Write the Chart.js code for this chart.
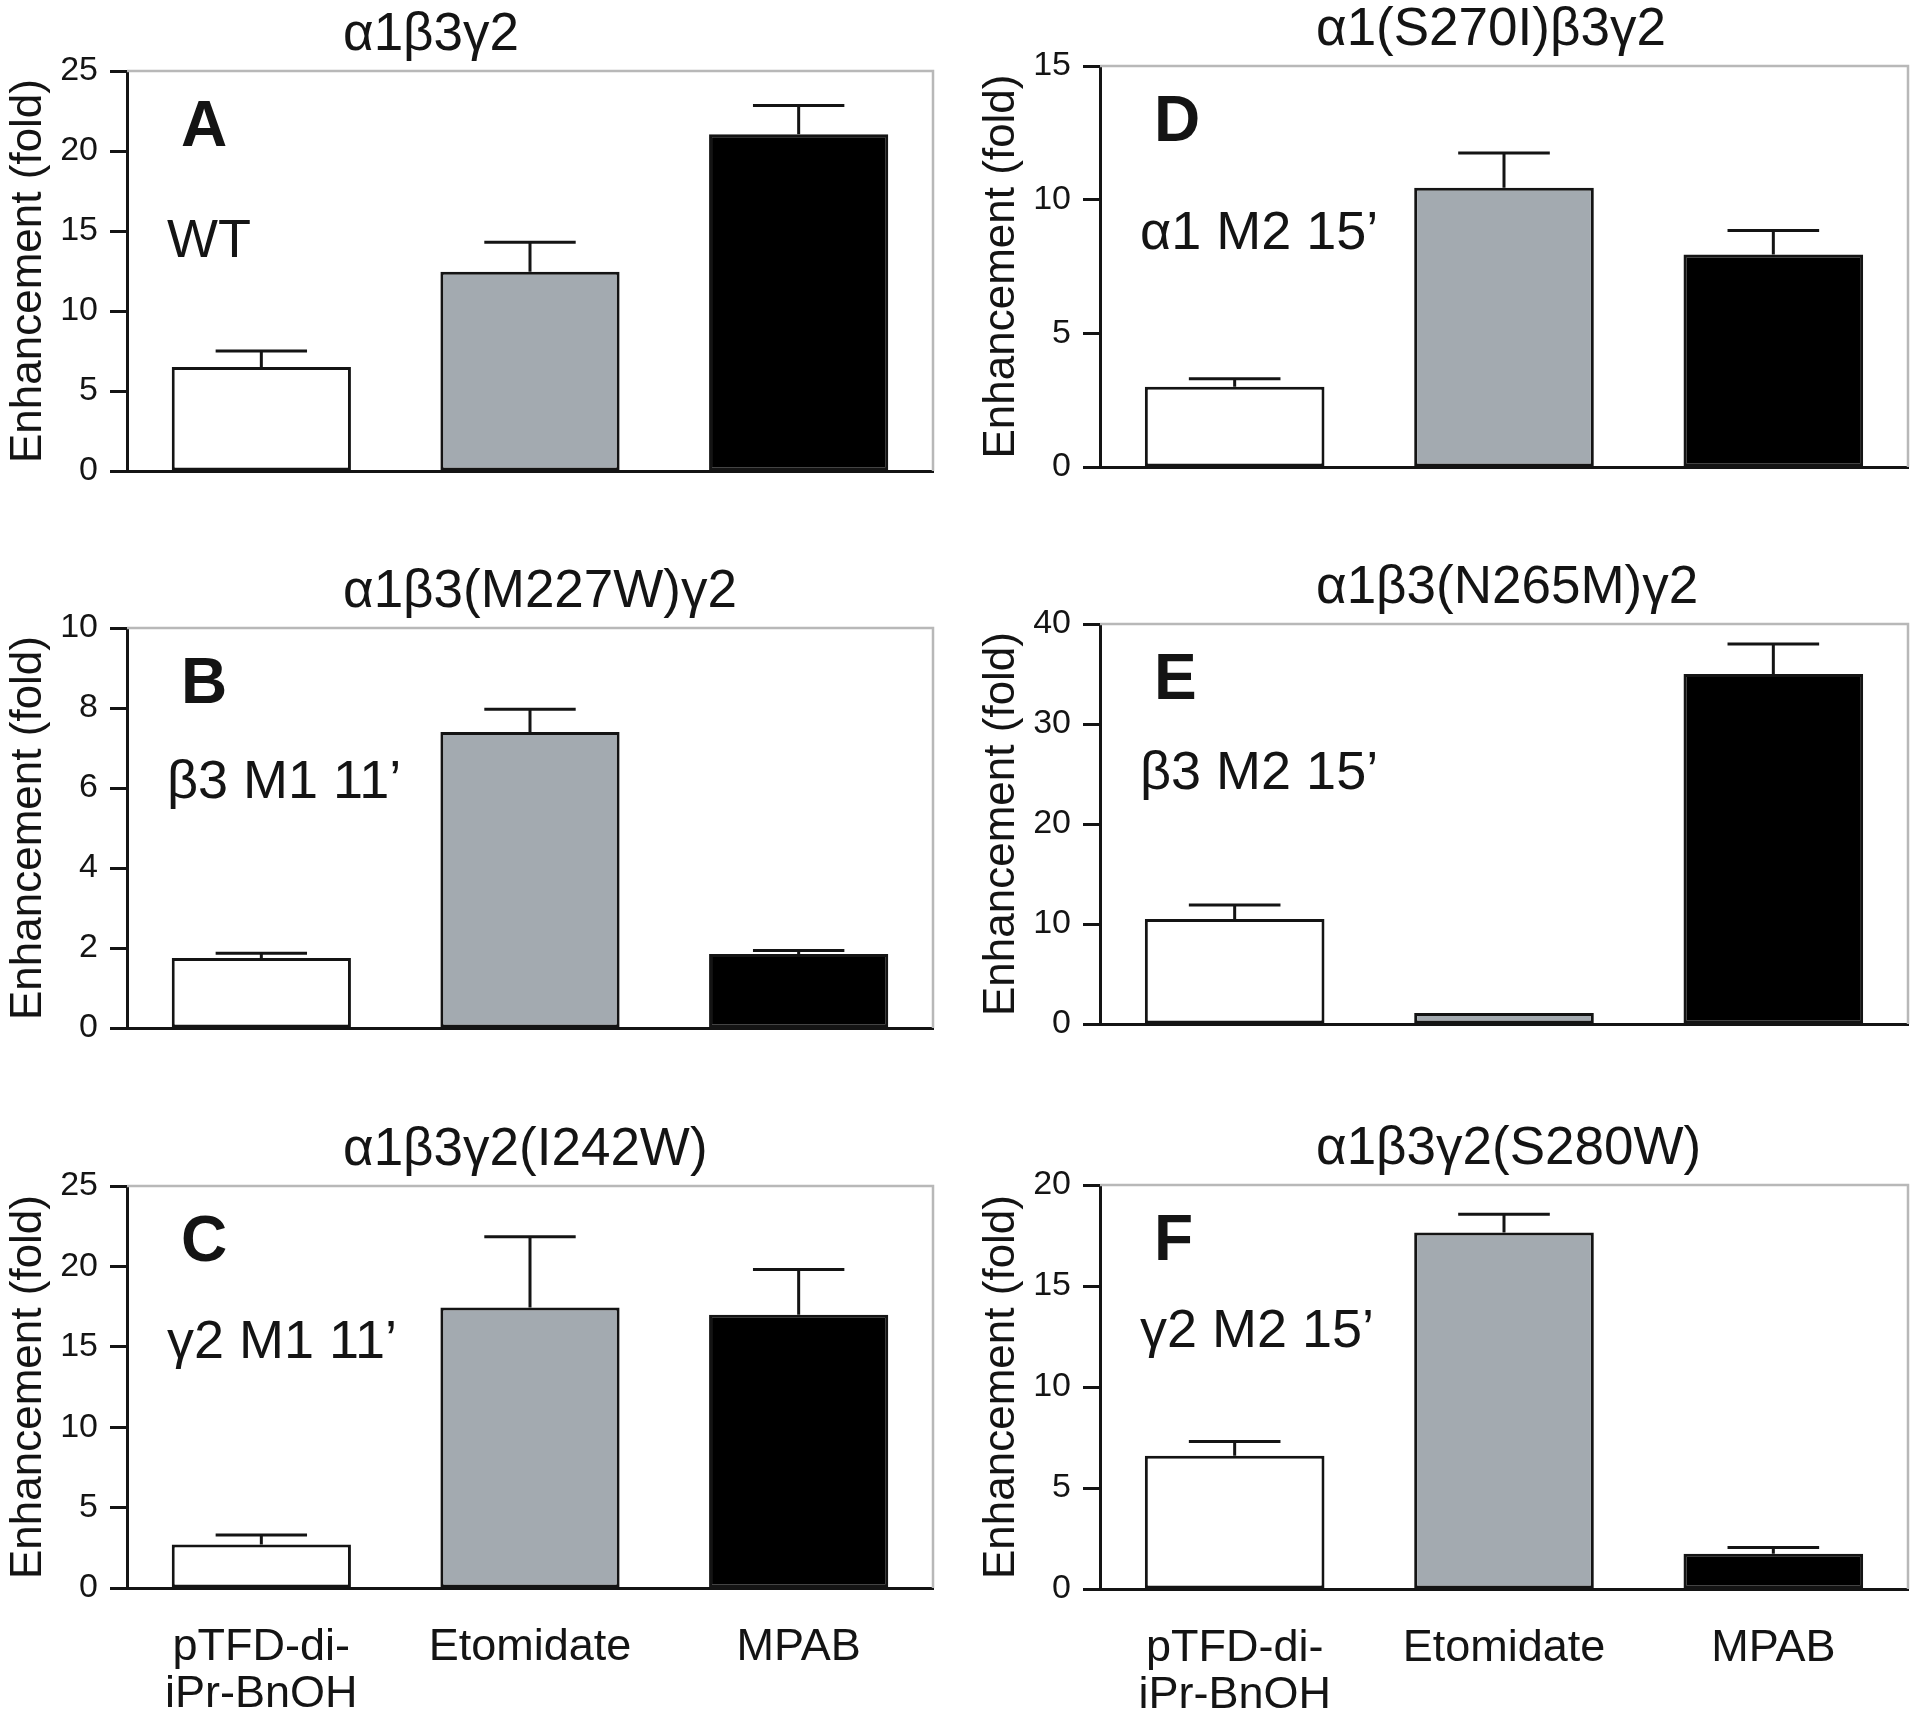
<!DOCTYPE html>
<html><head><meta charset="utf-8">
<script src="https://cdn.jsdelivr.net/npm/chart.js@4.4.1/dist/chart.umd.min.js"></script>
<style>
html,body{margin:0;padding:0;background:#fff;}
body{width:1920px;height:1715px;position:relative;overflow:hidden;}
canvas{position:absolute;}
</style></head><body>
<script>
// ---- data ----
const categories = [['pTFD-di-', 'iPr-BnOH'], 'Etomidate', 'MPAB'];
const panelTitles = ['α1β3γ2', 'α1β3(M227W)γ2', 'α1β3γ2(I242W)', 'α1(S270I)β3γ2', 'α1β3(N265M)γ2', 'α1β3γ2(S280W)'];
const panelLetters = ['A', 'B', 'C', 'D', 'E', 'F'];
const panelNotes = ['WT', 'β3 M1 11’', 'γ2 M1 11’', 'α1 M2 15’', 'β3 M2 15’', 'γ2 M2 15’'];
const yAxisTitle = 'Enhancement (fold)';

const meansA = [6.5, 12.45, 21.05];
const semA   = [1.0, 1.85, 1.8];
const meansB = [1.75, 7.4, 1.85];
const semB   = [0.12, 0.57, 0.09];
const meansC = [2.7, 17.45, 17.0];
const semC   = [0.6, 4.4, 2.8];
const meansD = [3.0, 10.45, 7.95];
const semD   = [0.3, 1.3, 0.9];
const meansE = [10.5, 1.1, 35.0];
const semE   = [1.4, 0.0, 3.0];
const meansF = [6.6, 17.65, 1.75];
const semF   = [0.7, 0.9, 0.3];

const yMax  = [25, 10, 25, 15, 40, 20];
const yStep = [5, 2, 5, 5, 10, 5];

const allMeans = [meansA, meansB, meansC, meansD, meansE, meansF];
const allSem   = [semA, semB, semC, semD, semE, semF];

// ---- layout (pixels) ----
const barColors = ['#ffffff', '#a3aab0', '#000000'];
const ink = '#141414';
const FONT = '"Liberation Sans", Arial, Helvetica, sans-serif';
// canvas boxes: [left, top, width, height, padLeft, padRight, plotTop(abs), plotBottom(abs), showX, noteBaseline]
const boxes = [
  [0,   0,    960, 550, 0,  27, 71,   471,  false, 186],
  [0,   550,  960, 560, 0,  27, 628,  1028, false, 170],
  [0,   1110, 960, 605, 0,  27, 1186, 1588, true,  172],
  [960, 0,    960, 550, 13, 12, 66,   467,  false, 183],
  [960, 550,  960, 560, 13, 12, 624,  1024, false, 165],
  [960, 1110, 960, 605, 13, 12, 1185, 1589, true,  162],
];

const framePlugin = {
  id: 'frame',
  beforeDatasetsDraw(chart) {
    const {ctx, chartArea: a} = chart;
    ctx.save();
    ctx.strokeStyle = '#b8b8b8';
    ctx.lineWidth = 2.5;
    ctx.beginPath();
    ctx.moveTo(a.left, a.top);
    ctx.lineTo(a.right, a.top);
    ctx.lineTo(a.right, a.bottom);
    ctx.stroke();
    ctx.restore();
  }
};

const errorBarPlugin = {
  id: 'errbars',
  afterDatasetsDraw(chart, args, opts) {
    const {ctx} = chart;
    const y = chart.scales.y;
    const meta = chart.getDatasetMeta(0);
    const vals = chart.data.datasets[0].data;
    ctx.save();
    ctx.strokeStyle = ink;
    ctx.lineWidth = 3;
    meta.data.forEach((el, i) => {
      const e = opts.sem[i];
      if (!e) return;
      const yTop = y.getPixelForValue(vals[i] + e);
      const half = el.width * 0.255;
      ctx.beginPath();
      ctx.moveTo(el.x, el.y);
      ctx.lineTo(el.x, yTop);
      ctx.moveTo(el.x - half, yTop);
      ctx.lineTo(el.x + half, yTop);
      ctx.stroke();
    });
    ctx.restore();
  }
};

const textPlugin = {
  id: 'panelText',
  afterDraw(chart, args, o) {
    const {ctx, chartArea: a} = chart;
    ctx.save();
    ctx.fillStyle = ink;
    ctx.textAlign = 'left';
    ctx.textBaseline = 'alphabetic';
    ctx.font = '53px ' + FONT;
    ctx.fillText(o.title, a.left + 216, a.top - 21);
    ctx.font = 'bold 64px ' + FONT;
    ctx.fillText(o.letter, a.left + 54, a.top + 75);
    ctx.font = '54px ' + FONT;
    ctx.fillText(o.note, a.left + 40, a.top + o.noteY);
    ctx.restore();
  }
};

boxes.forEach((b, i) => {
  const [L, T, W, H, padL, padR, pTop, pBot, showX, noteY] = b;
  const cv = document.createElement('canvas');
  cv.width = W; cv.height = H;
  cv.style.left = L + 'px'; cv.style.top = T + 'px';
  cv.style.width = W + 'px'; cv.style.height = H + 'px';
  document.body.appendChild(cv);
  const xH = T + H - pBot;
  new Chart(cv, {
    type: 'bar',
    data: {
      labels: categories,
      datasets: [{
        data: allMeans[i],
        backgroundColor: barColors,
        borderColor: ink,
        borderWidth: 3,
        borderSkipped: false,
        categoryPercentage: 1.0,
        barPercentage: 0.667
      }]
    },
    options: {
      responsive: false,
      animation: false,
      devicePixelRatio: 1,
      layout: {padding: {left: padL, right: padR, top: pTop - T, bottom: 0}},
      plugins: {
        legend: {display: false},
        tooltip: {enabled: false},
        title: {display: false},
        errbars: {sem: allSem[i]},
        panelText: {title: panelTitles[i], letter: panelLetters[i], note: panelNotes[i], noteY: noteY - (pTop - T) + (pTop - T)}
      },
      scales: {
        x: {
          offset: true,
          grid: {display: false, drawTicks: false},
          border: {display: true, color: ink, width: 3},
          ticks: {display: showX, color: ink, font: {family: FONT, size: 45, lineHeight: 1.05}, padding: 36, autoSkip: false, maxRotation: 0, minRotation: 0},
          afterFit(s) { s.height = xH; }
        },
        y: {
          min: 0, max: yMax[i],
          ticks: {stepSize: yStep[i], color: ink, font: {family: FONT, size: 34}, padding: 12},
          grid: {display: true, drawOnChartArea: false, drawTicks: true, tickLength: 17, tickWidth: 3, tickColor: ink},
          border: {display: true, color: ink, width: 3},
          title: {display: true, text: yAxisTitle, color: ink, font: {family: FONT, size: 44, lineHeight: 1.2}, padding: {top: 2, bottom: 0}},
          afterFit(s) { s.width = 127; }
        }
      }
    },
    plugins: [framePlugin, errorBarPlugin, textPlugin]
  });
});
</script>
</body></html>
